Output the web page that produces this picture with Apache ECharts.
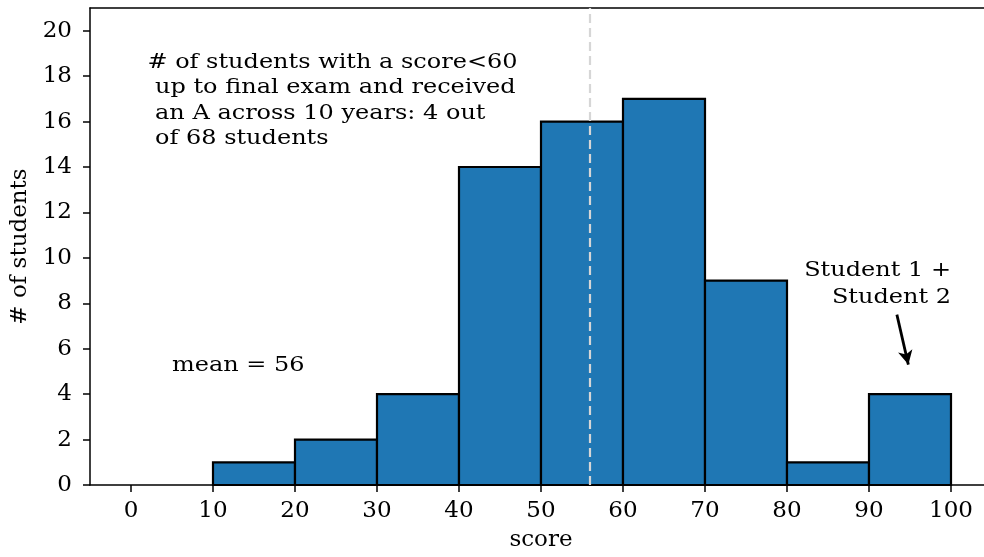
<!DOCTYPE html>
<html>
<head>
<meta charset="utf-8">
<script src="https://cdn.jsdelivr.net/npm/echarts@6/dist/echarts.min.js"></script>
<style>
  html, body { margin: 0; padding: 0; overflow: hidden; background: #fff; width: 984px; height: 557px; }
  #chart { width: 1000px; height: 557px; }
</style>
</head>
<body>
<div id="chart"></div>
<script>
// histogram bins (score ranges) and counts
const binStarts = [10, 20, 30, 40, 50, 60, 70, 80, 90]
const binWidth = 10
const counts = [1, 2, 4, 14, 16, 17, 9, 1, 4]
const xTicks = [0, 10, 20, 30, 40, 50, 60, 70, 80, 90, 100]
const yTicks = [0, 2, 4, 6, 8, 10, 12, 14, 16, 18, 20]
const meanScore = 56

const infoText = '# of students with a score<60\n up to final exam and received\n an A across 10 years: 4 out\n of 68 students'
const studentText = 'Student 1 +\nStudent 2'
const meanText = 'mean = ' + meanScore

const FONT = '"DejaVu Serif", serif'
const bins = binStarts.map((s, i) => [s, s + binWidth, counts[i]])

const chart = echarts.init(document.getElementById('chart'))

const axisLine = { show: true, onZero: false, lineStyle: { color: '#000', width: 1.5 } }
const axisTick = { show: true, length: 7, lineStyle: { color: '#000', width: 1.5 } }
const labelStyle = { fontFamily: FONT, fontSize: 23, color: '#000' }

chart.setOption({
  animation: false,
  grid: { left: 90, top: 8, right: 8, bottom: 68 },
  xAxis: [
    {
      type: 'value', min: -5, max: 105,
      name: 'score', nameLocation: 'middle', nameGap: 44,
      nameTextStyle: labelStyle,
      axisLine,
      axisTick: { ...axisTick, customValues: xTicks },
      axisLabel: { ...labelStyle, customValues: xTicks, margin: 15 },
      splitLine: { show: false },
    },
    {
      // top spine only
      type: 'value', min: -5, max: 105, position: 'top',
      axisLine, axisTick: { show: false }, axisLabel: { show: false }, splitLine: { show: false },
    },
  ],
  yAxis: {
    type: 'value', min: 0, max: 21,
    name: '# of students', nameLocation: 'middle', nameGap: 58, nameRotate: 90,
    nameTextStyle: labelStyle,
    axisLine,
    axisTick: { ...axisTick, customValues: yTicks },
    axisLabel: { ...labelStyle, customValues: yTicks, margin: 18 },
    splitLine: { show: false },
  },
  series: [
    {
      type: 'custom',
      data: bins,
      encode: { x: [0, 1], y: 2 },
      renderItem(params, api) {
        const p0 = api.coord([api.value(0), api.value(2)])
        const p1 = api.coord([api.value(1), 0])
        return {
          type: 'rect',
          shape: { x: p0[0], y: p0[1], width: p1[0] - p0[0], height: p1[1] - p0[1] },
          style: { fill: '#1f77b4', stroke: '#000', lineWidth: 2.2 },
        }
      },
      z: 2,
    },
    {
      type: 'line',
      data: [],
      z: 5,
      markLine: {
        silent: true,
        animation: false,
        symbol: ['none', 'none'],
        label: { show: false },
        lineStyle: { color: '#d6d6d6', type: [9, 5], width: 2.2 },
        data: [{ xAxis: meanScore }],
      },
    },
    {
      type: 'line',
      data: [],
      z: 5,
      markLine: {
        silent: true,
        animation: false,
        symbol: ['none', 'arrow'],
        symbolSize: [11, 14],
        label: { show: false },
        lineStyle: { color: '#000', type: 'solid', width: 2.8 },
        data: [[{ coord: [93.4, 7.5] }, { coord: [94.8, 5.3] }]],
      },
    },
  ],
})

// text annotations anchored in data coordinates
function px(pt) { return chart.convertToPixel({ gridIndex: 0 }, pt) }
const pInfo = px([2, 14.7])
const pStudent = px([100, 7.62])
const pMean = px([5, 4.8])

const annoFont = '24px ' + FONT
chart.setOption({
  graphic: [
    {
      type: 'text', x: pInfo[0], y: pInfo[1], z: 10, scaleY: 0.87,
      style: { text: infoText, font: annoFont, fill: '#000', lineHeight: 29, align: 'left', verticalAlign: 'bottom' },
    },
    {
      type: 'text', x: pStudent[0], y: pStudent[1], z: 10, scaleY: 0.87,
      style: { text: studentText, font: annoFont, fill: '#000', lineHeight: 32, align: 'right', verticalAlign: 'bottom' },
    },
    {
      type: 'text', x: pMean[0], y: pMean[1], z: 10, scaleY: 0.87,
      style: { text: meanText, font: annoFont, fill: '#000', align: 'left', verticalAlign: 'bottom' },
    },
  ],
})
</script>
</body>
</html>
